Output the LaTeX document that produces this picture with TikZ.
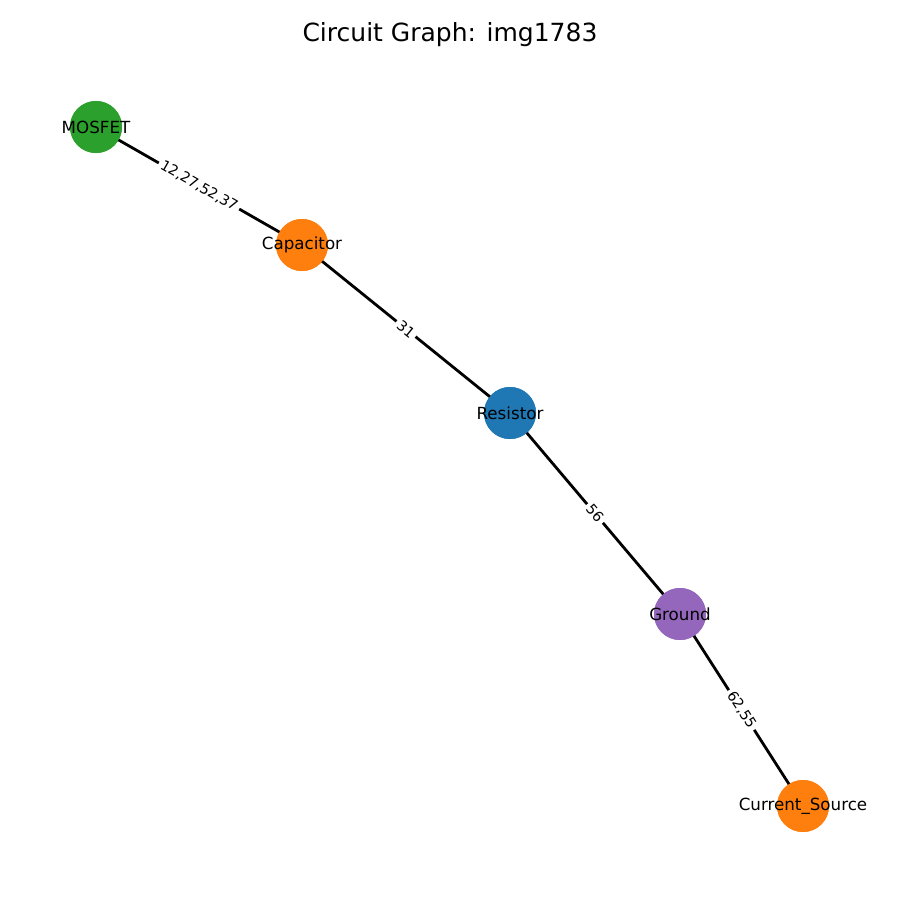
\documentclass[tikz,border=0pt]{standalone}
\usepackage{fontspec}
\setmainfont{DejaVu Sans}
\usepackage{tikz}
\usetikzlibrary{positioning}
\usepackage{xcolor}
\definecolor{tabblue}{HTML}{1F77B4}
\definecolor{taborange}{HTML}{FF7F0E}
\definecolor{tabgreen}{HTML}{2CA02C}
\definecolor{tabpurple}{HTML}{9467BD}
\tikzset{
    part/.style={circle, minimum size=52pt, inner sep=0pt, draw=none},
    partlabel/.style={font=\fontsize{16.7}{20}\selectfont, text=black},
    wire/.style={line width=2.8pt, black},
    wirelabel/.style={fill=white, inner xsep=3pt, inner ysep=2pt, sloped, pos=0.5, font=\fontsize{14.3}{16}\selectfont}
}
\begin{document}
\begin{tikzpicture}[x=1pt, y=-1pt]
    \useasboundingbox[fill=white] (0,0) rectangle (900,900);
    \node[font=\fontsize{25}{30}\selectfont] (title) at (450,35) {Circuit Graph: img1783};
    % components
    \node[part, fill=tabgreen] (mosfet) at (96,127) {};
    \node[part, fill=taborange] (cap) at (302,245) {};
    \node[part, fill=tabblue] (res) at (510,413) {};
    \node[part, fill=tabpurple] (gnd) at (680,614) {};
    \node[part, fill=taborange] (isrc) at (803,806) {};
    % connections
    \draw[wire] (mosfet.center) -- node[wirelabel] {12,27,52,37} (cap.center);
    \draw[wire] (cap.center) -- node[wirelabel] {31} (res.center);
    \draw[wire] (res.center) -- node[wirelabel] {56} (gnd.center);
    \draw[wire] (gnd.center) -- node[wirelabel] {62,55} (isrc.center);
    % redraw circles over the wires
    \foreach \n/\c in {mosfet/tabgreen, cap/taborange, res/tabblue, gnd/tabpurple, isrc/taborange}
        \fill[\c] (\n.center) circle (26pt);
    \node[partlabel] at (mosfet.center) {MOSFET};
    \node[partlabel] at (cap.center) {Capacitor};
    \node[partlabel] at (res.center) {Resistor};
    \node[partlabel] at (gnd.center) {Ground};
    \node[partlabel] at (isrc.center) {Current\_Source};
\end{tikzpicture}
\end{document}
